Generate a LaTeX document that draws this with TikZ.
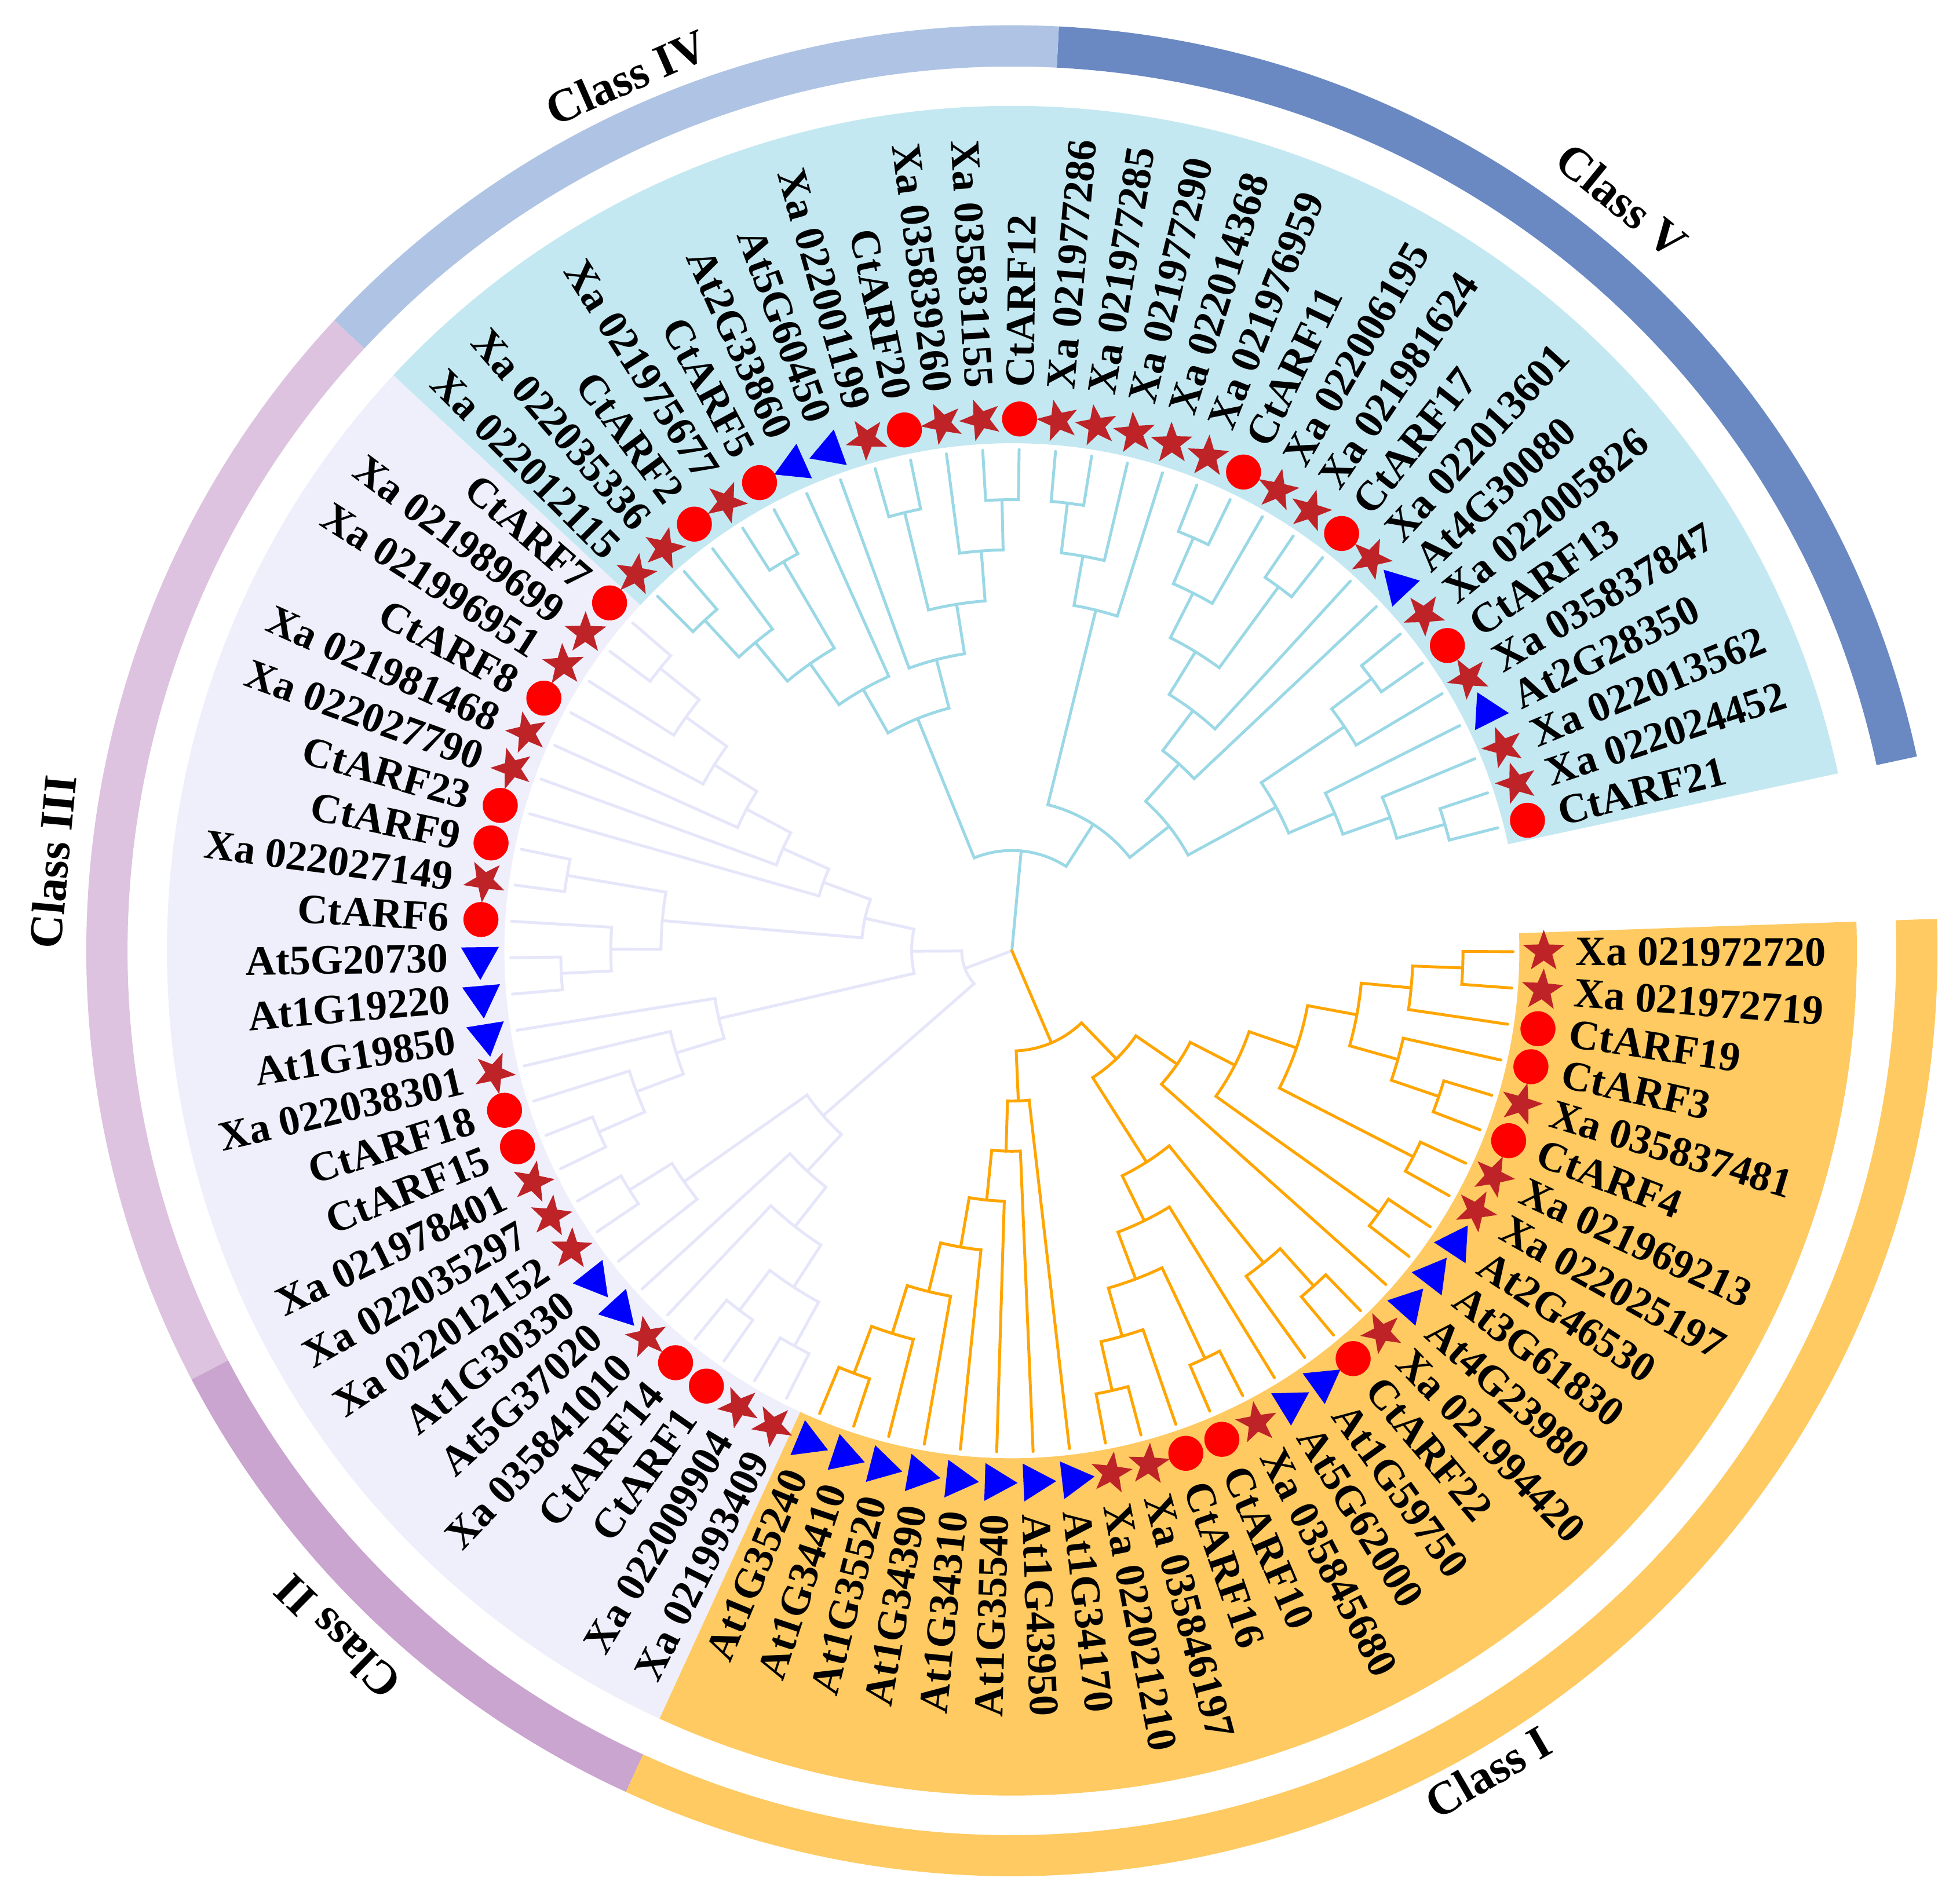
\documentclass[tikz,border=0pt]{standalone}
\usepackage{fontspec}
\setmainfont{Liberation Serif}
\usetikzlibrary{shapes.geometric}
\definecolor{cybr}{RGB}{155,216,230}
\definecolor{lvbr}{RGB}{230,230,250}
\definecolor{orbr}{RGB}{255,165,0}
\definecolor{cybg}{RGB}{196,232,241}
\definecolor{lvbg}{RGB}{239,239,252}
\definecolor{orbg}{RGB}{254,202,97}
\definecolor{ringV}{RGB}{106,137,195}
\definecolor{ringIV}{RGB}{175,196,228}
\definecolor{ringIII}{RGB}{221,195,223}
\definecolor{ringII}{RGB}{201,165,207}
\definecolor{ringI}{RGB}{254,202,97}
\definecolor{starred}{RGB}{190,35,39}
\definecolor{circred}{RGB}{255,0,0}
\definecolor{triblue}{RGB}{0,0,255}
% tree helpers
\newcommand\clade[4]{%
  \edef\pa{\csname tp:#2\endcsname}%
  \edef\pb{\csname tp:#3\endcsname}%
  \edef\ha{\csname th:#2\endcsname}%
  \edef\hb{\csname th:#3\endcsname}%
  \pgfmathsetmacro\hn{max(\ha,\hb)+1}%
  \pgfmathsetmacro\pn{(\pa+\pb)/2}%
  \expandafter\xdef\csname tp:#1\endcsname{\pn}%
  \expandafter\xdef\csname th:#1\endcsname{\hn}%
  \pgfmathsetmacro\ta{14.2+4.165*\pa}%
  \pgfmathsetmacro\tb{14.2+4.165*\pb}%
  \pgfmathsetmacro\tn{14.2+4.165*\pn}%
  \pgfmathsetmacro\rn{40.1*(10-\hn)}%
  \pgfmathsetmacro\ra{40.1*(10-\ha)}%
  \pgfmathsetmacro\rb{40.1*(10-\hb)}%
  \coordinate (#1) at (\tn:\rn);%
  \draw[branch,#4] (\ta:\ra) -- (\ta:\rn) arc[start angle=\ta,end angle=\tb,radius=\rn] -- (\tb:\rb);%
}
\newcommand\sector[5]{\fill[#5] (#1:#3) arc[start angle=#1,end angle=#2,radius=#3] -- (#2:#4) arc[start angle=#2,end angle=#1,radius=#4] -- cycle;}
\tikzset{
  branch/.style={line width=2.3pt,line cap=round,line join=miter},
  symc/.style={circle,fill=circred,inner sep=0pt,minimum size=28pt},
  syms/.style={star,star points=5,star point ratio=2.45,fill=starred,inner sep=0pt,minimum size=35pt},
  symt/.style={regular polygon,regular polygon sides=3,fill=triblue,inner sep=0pt,minimum size=35pt},
  lab/.style={inner sep=0pt,font=\fontsize{33.5}{36}\selectfont\bfseries},
  cls/.style={inner sep=0pt,font=\fontsize{37.5}{40}\selectfont\bfseries}
}
\begin{document}
\begin{tikzpicture}[x=1pt,y=1pt]
\fill[white] (-809.5,-756.3) rectangle (758.5,760.7);
\useasboundingbox (-809.5,-756.3) rectangle (758.5,760.7);
% class backgrounds
\sector{12.1175}{137.0675}{406}{676}{cybg}
\sector{137.0675}{245.3575}{406}{676}{lvbg}
\sector{245.3575}{361.9775}{406}{676}{orbg}
% outer ring
\sector{12.1175}{87.0875}{707.5}{740.5}{ringV}
\sector{87.0875}{137.0675}{707.5}{740.5}{ringIV}
\sector{137.0675}{207.6}{707.5}{740.5}{ringIII}
\sector{207.6}{245.3575}{707.5}{740.5}{ringII}
\sector{245.3575}{361.9775}{707.5}{740.5}{ringI}
% class labels
\node[cls,rotate=23.8] (cIV) at (113.8:763.8) {Class IV};
\node[cls,rotate=-39.1] (cV) at (50.9:773.6) {Class V};
\node[cls,rotate=84.7] (cIII) at (174.7:770.7) {Class III};
\node[cls,rotate=135.5] (cII) at (225.5:769.9) {Class II};
\node[cls,rotate=30.1] (cI) at (300.1:759.5) {Class I};
% leaves data
\foreach \k in {0,...,83}{\expandafter\xdef\csname tp:\k\endcsname{\k}\expandafter\xdef\csname th:\k\endcsname{0}}
% ---- Class IV/V (cyan) ----
\clade{T1}{0}{1}{cybr}
\clade{T2}{2}{T1}{cybr}
\clade{T3}{3}{T2}{cybr}
\clade{R1}{5}{6}{cybr}
\clade{R2}{4}{R1}{cybr}
\clade{R3}{T3}{R2}{cybr}
\clade{Q}{9}{10}{cybr}
\clade{P1}{12}{13}{cybr}
\clade{P2}{11}{P1}{cybr}
\clade{P3}{Q}{P2}{cybr}
\clade{P4}{8}{P3}{cybr}
\clade{P5}{7}{P4}{cybr}
\clade{M}{R3}{P5}{cybr}
\clade{I}{16}{17}{cybr}
\clade{J}{15}{I}{cybr}
\clade{K}{14}{J}{cybr}
\clade{L}{M}{K}{cybr}
\clade{A}{18}{19}{cybr}
\clade{B}{20}{A}{cybr}
\clade{C}{21}{22}{cybr}
\clade{D}{B}{C}{cybr}
\clade{E}{D}{23}{cybr}
\clade{H1}{25}{26}{cybr}
\clade{H2}{28}{29}{cybr}
\clade{H3}{27}{H2}{cybr}
\clade{H}{H1}{H3}{cybr}
\clade{G}{24}{H}{cybr}
\clade{F}{E}{G}{cybr}
\clade{C0}{L}{F}{cybr}
% ---- Class II/III (lavender) ----
\clade{V1}{30}{31}{lvbr}
\clade{V2}{V1}{32}{lvbr}
\clade{V3}{V2}{33}{lvbr}
\clade{V4}{V3}{34}{lvbr}
\clade{V5}{V4}{35}{lvbr}
\clade{V6}{V5}{36}{lvbr}
\clade{W1}{37}{38}{lvbr}
\clade{X1}{40}{41}{lvbr}
\clade{X2}{39}{X1}{lvbr}
\clade{X3}{W1}{X2}{lvbr}
\clade{X4}{V6}{X3}{lvbr}
\clade{Z9}{45}{46}{lvbr}
\clade{Z8}{44}{Z9}{lvbr}
\clade{Z7}{43}{Z8}{lvbr}
\clade{Z6}{42}{Z7}{lvbr}
\clade{Y2}{X4}{Z6}{lvbr}
\clade{AA9}{47}{48}{lvbr}
\clade{AA8}{AA9}{49}{lvbr}
\clade{BBa}{52}{53}{lvbr}
\clade{BBb}{54}{55}{lvbr}
\clade{BB8}{BBa}{BBb}{lvbr}
\clade{BB7}{51}{BB8}{lvbr}
\clade{BB6}{50}{BB7}{lvbr}
\clade{Z5}{AA8}{BB6}{lvbr}
\clade{Y1}{Y2}{Z5}{lvbr}
% ---- Class I (orange) ----
\clade{O9}{56}{57}{orbr}
\clade{O8}{O9}{58}{orbr}
\clade{O7}{O8}{59}{orbr}
\clade{O6}{O7}{60}{orbr}
\clade{O5}{O6}{61}{orbr}
\clade{O4}{O5}{62}{orbr}
\clade{O3}{O4}{63}{orbr}
\clade{Q9}{64}{65}{orbr}
\clade{Q8}{Q9}{66}{orbr}
\clade{Q9b}{67}{68}{orbr}
\clade{Q7}{Q8}{Q9b}{orbr}
\clade{Q6}{Q7}{69}{orbr}
\clade{Q9c}{71}{72}{orbr}
\clade{Q8b}{70}{Q9c}{orbr}
\clade{Q5}{Q6}{Q8b}{orbr}
\clade{S9a}{74}{75}{orbr}
\clade{S9b}{76}{77}{orbr}
\clade{S9c}{78}{79}{orbr}
\clade{S8}{S9c}{80}{orbr}
\clade{S9d}{82}{83}{orbr}
\clade{S8b}{81}{S9d}{orbr}
\clade{S7}{S8}{S8b}{orbr}
\clade{S6}{S9b}{S7}{orbr}
\clade{S5}{S9a}{S6}{orbr}
\clade{S4}{73}{S5}{orbr}
\clade{P3o}{Q5}{S4}{orbr}
\clade{O2}{O3}{P3o}{orbr}
% root
\coordinate (root) at (0,0);
\draw[branch,cybr] (root) -- (C0);
\draw[branch,lvbr] (root) -- (Y1);
\draw[branch,orbr] (root) -- (O2);
% leaf symbols and labels
\foreach \k/\ty/\lab in {
0/c/CtARF21,1/s/Xa 022024452,2/s/Xa 022013562,3/t/At2G28350,4/s/Xa 035837847,
5/c/CtARF13,6/s/Xa 022005826,7/t/At4G30080,8/s/Xa 022013601,9/c/CtARF17,
10/s/Xa 021981624,11/s/Xa 022006195,12/c/CtARF11,13/s/Xa 021976959,14/s/Xa 022014368,
15/s/Xa 021977290,16/s/Xa 021977285,17/s/Xa 021977286,18/c/CtARF12,19/s/Xa 035831155,
20/s/Xa 035839260,21/c/CtARF20,22/s/Xa 022001199,23/t/At5G60450,24/t/At2G33860,
25/c/CtARF5,26/s/Xa 021975677,27/c/CtARF2,28/s/Xa 022035336,29/s/Xa 022012115,
30/c/CtARF7,31/s/Xa 021989699,32/s/Xa 021996951,33/c/CtARF8,34/s/Xa 021981468,
35/s/Xa 022027790,36/c/CtARF23,37/c/CtARF9,38/s/Xa 022027149,39/c/CtARF6,
40/t/At5G20730,41/t/At1G19220,42/t/At1G19850,43/s/Xa 022038301,44/c/CtARF18,
45/c/CtARF15,46/s/Xa 021978401,47/s/Xa 022035297,48/s/Xa 022012152,49/t/At1G30330,
50/t/At5G37020,51/s/Xa 035841010,52/c/CtARF14,53/c/CtARF1,54/s/Xa 022009904,
55/s/Xa 021993409,56/t/At1G35240,57/t/At1G34410,58/t/At1G35520,59/t/At1G34390,
60/t/At1G34310,61/t/At1G35540,62/t/At1G43950,63/t/At1G34170,64/s/Xa 022021210,
65/s/Xa 035846197,66/c/CtARF16,67/c/CtARF10,68/s/Xa 035845680,69/t/At5G62000,
70/t/At1G59750,71/c/CtARF22,72/s/Xa 021994420,73/t/At4G23980,74/t/At3G61830,
75/t/At2G46530,76/s/Xa 022025197,77/s/Xa 021969213,78/c/CtARF4,79/s/Xa 035837481,
80/c/CtARF3,81/c/CtARF19,82/s/Xa 021972719,83/s/Xa 021972720}{
  \pgfmathsetmacro\th{14.2+4.165*\k}
  \pgfmathtruncatemacro\lft{cos(\th)<0}
  \if c\ty \node[symc] (s\k) at (\th:425.5) {};\fi
  \if s\ty \node[syms,rotate=\th] (s\k) at (\th:425.5) {};\fi
  \if t\ty \node[symt,rotate=\th] (s\k) at (\th:425.5) {};\fi
  \ifnum\lft=1
    \pgfmathsetmacro\tr{\th+180}
    \node[lab,anchor=east,rotate=\tr] (l\k) at (\th:451) {\lab};
  \else
    \node[lab,anchor=west,rotate=\th] (l\k) at (\th:451) {\lab};
  \fi
}
\end{tikzpicture}
\end{document}
